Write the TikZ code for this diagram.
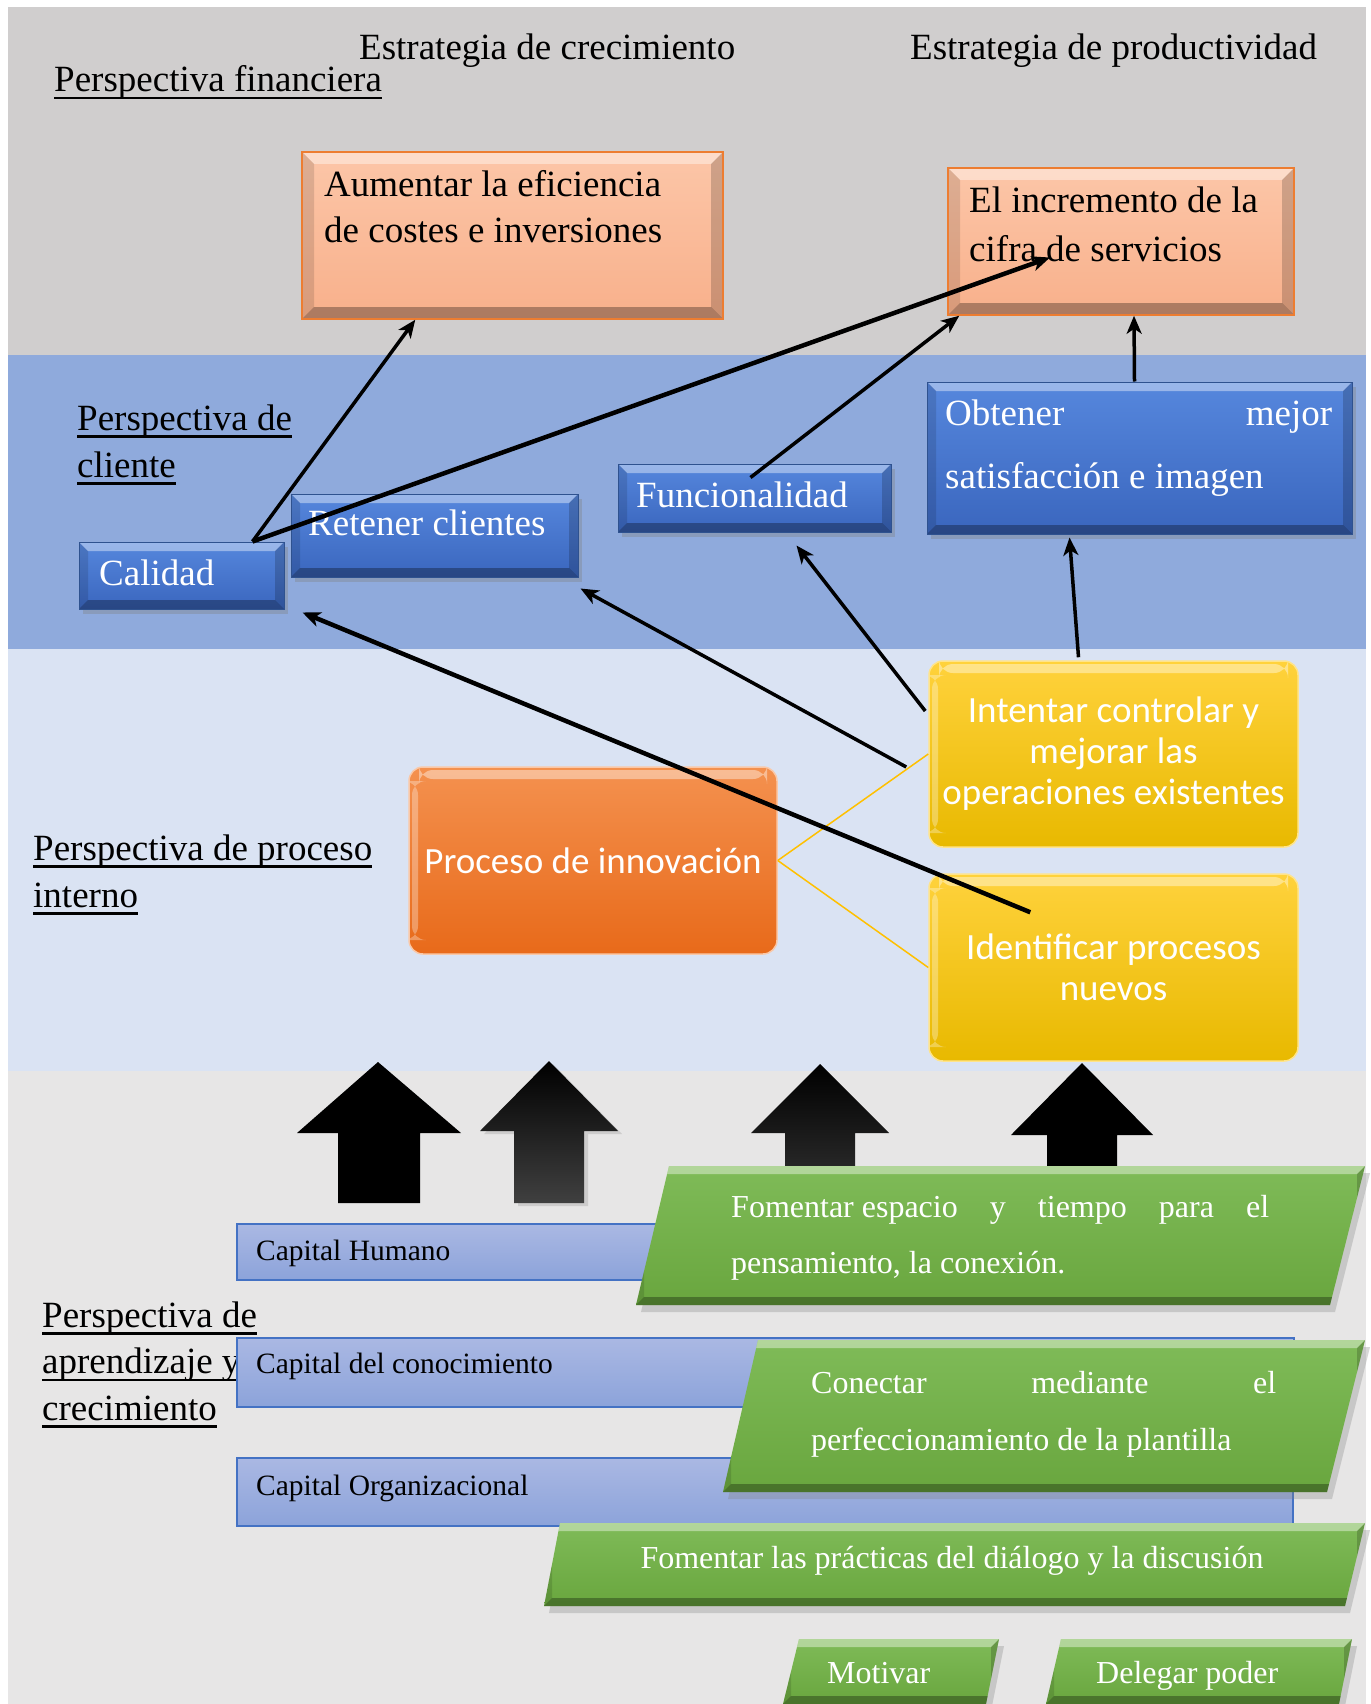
\documentclass[tikz,border=0pt]{standalone}
\usepackage{fontspec}
\setmainfont{Liberation Serif}
\newfontfamily\calibri{Carlito}
\usetikzlibrary{arrows.meta,shadows}
\definecolor{bandfin}{HTML}{D0CECE}
\definecolor{bandcli}{HTML}{8FAADC}
\definecolor{bandint}{HTML}{DAE3F3}
\definecolor{bandapr}{HTML}{E7E6E6}
\definecolor{salmontop}{HTML}{FCC6A8}
\definecolor{salmonbot}{HTML}{F8B08B}
\definecolor{orangeline}{HTML}{ED7D31}
\definecolor{bluetop}{HTML}{5687DD}
\definecolor{bluebot}{HTML}{3A66BE}
\definecolor{blueline}{HTML}{2F528F}
\definecolor{oratop}{HTML}{F4914F}
\definecolor{orabot}{HTML}{E86A1A}
\definecolor{yeltop}{HTML}{FFD23C}
\definecolor{yelbot}{HTML}{E8B900}
\definecolor{yelline}{HTML}{FFC000}
\definecolor{captop}{HTML}{AAB8E3}
\definecolor{capbot}{HTML}{8CA3DA}
\definecolor{capline}{HTML}{4472C4}
\definecolor{greentop}{HTML}{7FBB58}
\definecolor{greenbot}{HTML}{69A63E}
\newcommand{\ulabel}[1]{\hbox{\setbox0=\hbox{#1}\rlap{\rule[-7.5pt]{\wd0}{2.5pt}}\box0}}
\tikzset{
  txt/.style={inner sep=0pt, font=\fontsize{37}{47}\selectfont},
  captxt/.style={inner sep=0pt, font=\fontsize{29.5}{36}\selectfont},
  gtxt/.style={inner sep=0pt, text=white, font=\fontsize{32}{40}\selectfont},
  bevel/.style={path picture={
    \fill[white,opacity=.4] (path picture bounding box.north west) -- (path picture bounding box.north east)
      -- ([xshift=-#1,yshift=-#1]path picture bounding box.north east) -- ([xshift=#1,yshift=-#1]path picture bounding box.north west) -- cycle;
    \fill[black,opacity=.3] (path picture bounding box.south west) -- (path picture bounding box.south east)
      -- ([xshift=-#1,yshift=#1]path picture bounding box.south east) -- ([xshift=#1,yshift=#1]path picture bounding box.south west) -- cycle;
    \fill[black,opacity=.12] (path picture bounding box.north west) -- ([xshift=#1,yshift=-#1]path picture bounding box.north west)
      -- ([xshift=#1,yshift=#1]path picture bounding box.south west) -- (path picture bounding box.south west) -- cycle;
    \fill[black,opacity=.18] (path picture bounding box.north east) -- ([xshift=-#1,yshift=-#1]path picture bounding box.north east)
      -- ([xshift=-#1,yshift=#1]path picture bounding box.south east) -- (path picture bounding box.south east) -- cycle;
  }}, bevel/.default=10,
  gloss/.style={path picture={
    \fill[white,opacity=.4] ([xshift=10pt,yshift=-3pt]path picture bounding box.north west) rectangle ([xshift=-10pt,yshift=-12pt]path picture bounding box.north east);
    \fill[white,opacity=.3] ([xshift=3pt,yshift=-14pt]path picture bounding box.north west) rectangle ([xshift=9pt,yshift=14pt]path picture bounding box.south west);
  }},
  finbox/.style={draw=orangeline, line width=1.5pt, top color=salmontop, bottom color=salmonbot, bevel=12},
  clibox/.style={draw=blueline, line width=1pt, top color=bluetop, bottom color=bluebot, bevel=9,
    drop shadow={shadow xshift=4pt, shadow yshift=-5pt, opacity=.35}},
  probox/.style={draw=oratop!50!white, line width=1.5pt, rounded corners=14pt, top color=oratop, bottom color=orabot, gloss,
    text=white, font=\calibri\fontsize{37}{41}\selectfont, inner sep=4pt, align=center},
  yelbox/.style={draw=yeltop!60!white, line width=1.5pt, rounded corners=14pt, top color=yeltop, bottom color=yelbot, gloss,
    text=white, font=\calibri\fontsize{37}{41}\selectfont, inner sep=4pt, align=center},
  capbox/.style={draw=capline, line width=1.5pt, top color=captop, bottom color=capbot},
  greenbox/.style={top color=greentop, bottom color=greenbot, bevel=8,
    drop shadow={shadow xshift=5pt, shadow yshift=-7pt, opacity=.3}},
  block/.style={fill=black},
  link/.style={-{Stealth[length=18pt,width=15pt,inset=5pt]}, line width=3.5pt},
}
\begin{document}
\begin{tikzpicture}[x=1pt,y=-1pt]
\useasboundingbox (0,0) rectangle (1370,1704);
\fill[white] (0,0) rectangle (1370,1704);
\fill[bandfin] (8,7) rectangle (1366,355);
\fill[bandcli] (8,355) rectangle (1366,649);
\fill[bandint] (8,649) rectangle (1366,1071);
\fill[bandapr] (8,1071) rectangle (1366,1704);

% titulos y perspectivas
\node[txt, anchor=base west] (crec) at (359,60) {Estrategia de crecimiento};
\node[txt, anchor=base west] (prod) at (910,60) {Estrategia de productividad};
\node[txt, anchor=base west] (fin) at (54,92) {\ulabel{Perspectiva financiera}};
\node[txt, anchor=base west] (cli) at (77,430) {\vtop{\ulabel{Perspectiva de}\ulabel{cliente}}};
\node[txt, anchor=base west] (pint) at (33,860) {\vtop{\ulabel{Perspectiva de proceso}\ulabel{interno}}};
\node[txt, anchor=base west] (apr) at (42,1327) {\vtop{\baselineskip=46.5pt\ulabel{Perspectiva de}\ulabel{aprendizaje y}\ulabel{crecimiento}}};

% perspectiva financiera
\node[finbox, minimum width=421, minimum height=167] (aum) at (512.5,235.5) {};
\node[txt, anchor=base west] (aumtxt) at (324,197) {\vtop{\baselineskip=46pt\hbox{Aumentar la eficiencia}\hbox{de costes e inversiones}}};
\node[finbox, minimum width=346, minimum height=147] (inc) at (1121,241.5) {};
\node[txt, anchor=base west] (inctxt) at (969,213) {\vtop{\baselineskip=49pt\hbox{El incremento de la}\hbox{cifra de servicios}}};

% perspectiva de cliente
\node[clibox, minimum width=205, minimum height=67] (cal) at (181.5,575.5) {};
\node[txt, text=white, anchor=base west] (caltxt) at (99,585) {Calidad};
\node[clibox, minimum width=287, minimum height=83] (ret) at (434.5,535.5) {};
\node[txt, text=white, anchor=base west] (rettxt) at (308,535) {Retener clientes};
\node[clibox, minimum width=273, minimum height=68] (fun) at (754.5,498) {};
\node[txt, text=white, anchor=base west] (funtxt) at (636,507) {Funcionalidad};
\node[clibox, minimum width=425, minimum height=152] (obt) at (1139.5,458) {};
\node[txt, text=white, anchor=base west] (obttxt) at (945,425) {\vtop{\baselineskip=63pt\hbox to 387pt{Obtener\hfill mejor}\hbox{satisfacción e imagen}}};

% perspectiva de proceso interno
\node[probox, minimum width=368, minimum height=187] (pro) at (593,860.5) {Proceso de innovación};
\node[yelbox, minimum width=369, minimum height=186] (inte) at (1113.5,754) {Intentar controlar y\\mejorar las\\operaciones existentes};
\node[yelbox, minimum width=369, minimum height=187] (ide) at (1113.5,967.5) {Identificar procesos\\nuevos};
\draw[yelline, line width=1.5pt] (pro.east) -- (inte.west);
\draw[yelline, line width=1.5pt] (pro.east) -- (ide.west);

% flechas de bloque
\fill[block] (338,1203) -- (338,1133) -- (297,1133) -- (378,1062) -- (461,1133) -- (420,1133) -- (420,1203) -- cycle;
\shade[top color=black, middle color=black, bottom color=black!75, drop shadow={shadow xshift=4pt, shadow yshift=-3pt, opacity=.25}]
  (514,1203) -- (514,1131) -- (480,1131) -- (549,1061) -- (618,1131) -- (584,1131) -- (584,1203) -- cycle;
\shade[top color=black, middle color=black, bottom color=black!80] (785,1200) -- (785,1133) -- (751,1133) -- (820,1064) -- (889,1133) -- (855,1133) -- (855,1200) -- cycle;
\fill[block] (1047,1200) -- (1047,1135) -- (1011,1135) -- (1082,1063) -- (1153,1135) -- (1117,1135) -- (1117,1200) -- cycle;

% perspectiva de aprendizaje y crecimiento
\node[capbox, minimum width=463, minimum height=56] (hum) at (468.5,1252) {};
\node[captxt, anchor=base west] (humtxt) at (256,1260) {Capital Humano};
\node[capbox, minimum width=1057, minimum height=69] (con) at (765.5,1372.5) {};
\node[captxt, anchor=base west] (contxt) at (256,1373) {Capital del conocimiento};
\node[capbox, minimum width=1056, minimum height=68] (org) at (765,1492) {};
\node[captxt, anchor=base west] (orgtxt) at (256,1495) {Capital Organizacional};

\shade[greenbox] (669,1166) -- (1365,1166) -- (1330,1305) -- (636,1305) -- cycle;
\node[gtxt, anchor=base west] (esptxt) at (731,1217) {\vtop{\baselineskip=56pt\hbox to 538pt{Fomentar espacio\hfill y\hfill tiempo\hfill para\hfill el}\hbox{pensamiento, la conexión.}}};
\shade[greenbox] (758,1340) -- (1365,1340) -- (1327,1492) -- (723,1492) -- cycle;
\node[gtxt, anchor=base west] (plantxt) at (811,1393) {\vtop{\baselineskip=57pt\hbox to 465pt{Conectar\hfill mediante\hfill el}\hbox{perfeccionamiento de la plantilla}}};
\shade[greenbox] (560,1523) -- (1365,1523) -- (1345,1606) -- (544,1606) -- cycle;
\node[gtxt, anchor=base] (dialtxt) at (952,1568) {Fomentar las prácticas del diálogo y la discusión};
\shade[greenbox] (799,1639) -- (999,1639) -- (986,1704) -- (783,1704) -- cycle;
\node[gtxt, anchor=base west] (mottxt) at (827,1683) {Motivar};
\shade[greenbox] (1061,1639) -- (1352,1639) -- (1339,1704) -- (1046,1704) -- cycle;
\node[gtxt, anchor=base west] (deltxt) at (1096,1683) {Delegar poder};

% relaciones
\draw[link] ([xshift=-32]cal.north east) -- ([xshift=114]aum.south west);
\draw[link, line width=4.5pt] ([xshift=-32]cal.north east) -- ([shift={(-71,16)}]inc.center);
\draw[link] ([shift={(133,14)}]fun.north west) -- ([xshift=12]inc.south west);
\draw[link] ([xshift=-5]obt.north) -- ([xshift=13]inc.south);
\draw[link] ([shift={(-35,-3)}]inte.north) -- ([shift={(-70,3)}]obt.south);
\draw[link] ([shift={(-3,-43)}]inte.west) -- ([shift={(-95,13)}]fun.south east);
\draw[link] ([shift={(-22,13)}]inte.west) -- ([shift={(2,11)}]ret.south east);
\draw[link, line width=4.5pt] ([shift={(102,39)}]ide.north west) -- ([shift={(18,3)}]cal.south east);
\end{tikzpicture}
\end{document}
